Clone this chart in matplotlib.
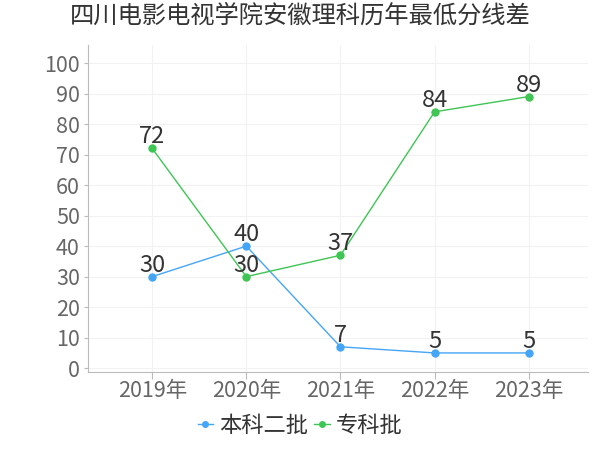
import matplotlib
matplotlib.use("Agg")
import matplotlib.pyplot as plt

plt.rcParams['font.family'] = ['Noto Sans CJK SC', 'DejaVu Sans']

years = ["2019年", "2020年", "2021年", "2022年", "2023年"]
benke2 = [30, 40, 7, 5, 5]
zhuanke = [72, 30, 37, 84, 89]
yticks = [0, 10, 20, 30, 40, 50, 60, 70, 80, 90, 100]

fig = plt.figure(figsize=(6, 4.5), dpi=100)
ax = fig.add_axes([0.147, 0.173, 0.833, 0.727])

x = range(len(years))
ax.plot(x, benke2, color='#45a5f8', lw=1, marker='o', ms=5, label='本科二批')
ax.plot(x, zhuanke, color='#3ec553', lw=1, marker='o', ms=5, label='专科批')

for xi, v in zip(x, benke2):
    ax.annotate(str(v), (xi, v), xytext=(0, 0), textcoords='offset points',
                ha='center', va='bottom', fontsize=17, color='#333333')
for xi, v in zip(x, zhuanke):
    ax.annotate(str(v), (xi, v), xytext=(0, 0), textcoords='offset points',
                ha='center', va='bottom', fontsize=17, color='#333333')

ax.set_xlim(-0.68, 4.63)
ax.set_ylim(-1.3, 105.9)
ax.set_xticks(list(x))
ax.set_xticklabels(years)
ax.set_yticks(yticks)
ax.tick_params(axis='both', labelsize=15.5, colors='#666666')
ax.tick_params(axis='y', length=3, color='#bbbbbb', pad=3)
ax.tick_params(axis='x', length=5, color='#bbbbbb', pad=1)
ax.grid(True, color='#f2f2f2', lw=0.8)
ax.set_axisbelow(True)
for s in ['top', 'right']:
    ax.spines[s].set_visible(False)
ax.spines['left'].set_color('#bbbbbb')
ax.spines['bottom'].set_color('#bbbbbb')

fig.suptitle('四川电影电视学院安徽理科历年最低分线差', x=0.5, y=0.995, fontsize=17.5, color='#333333')
fig.legend(loc='lower center', bbox_to_anchor=(0.5, -0.015), ncol=2, frameon=False,
           fontsize=16, handlelength=0.7, handletextpad=0.25, columnspacing=0.3,
           labelcolor='#333333', markerscale=0.8)

fig.savefig('out.png', dpi=100)
